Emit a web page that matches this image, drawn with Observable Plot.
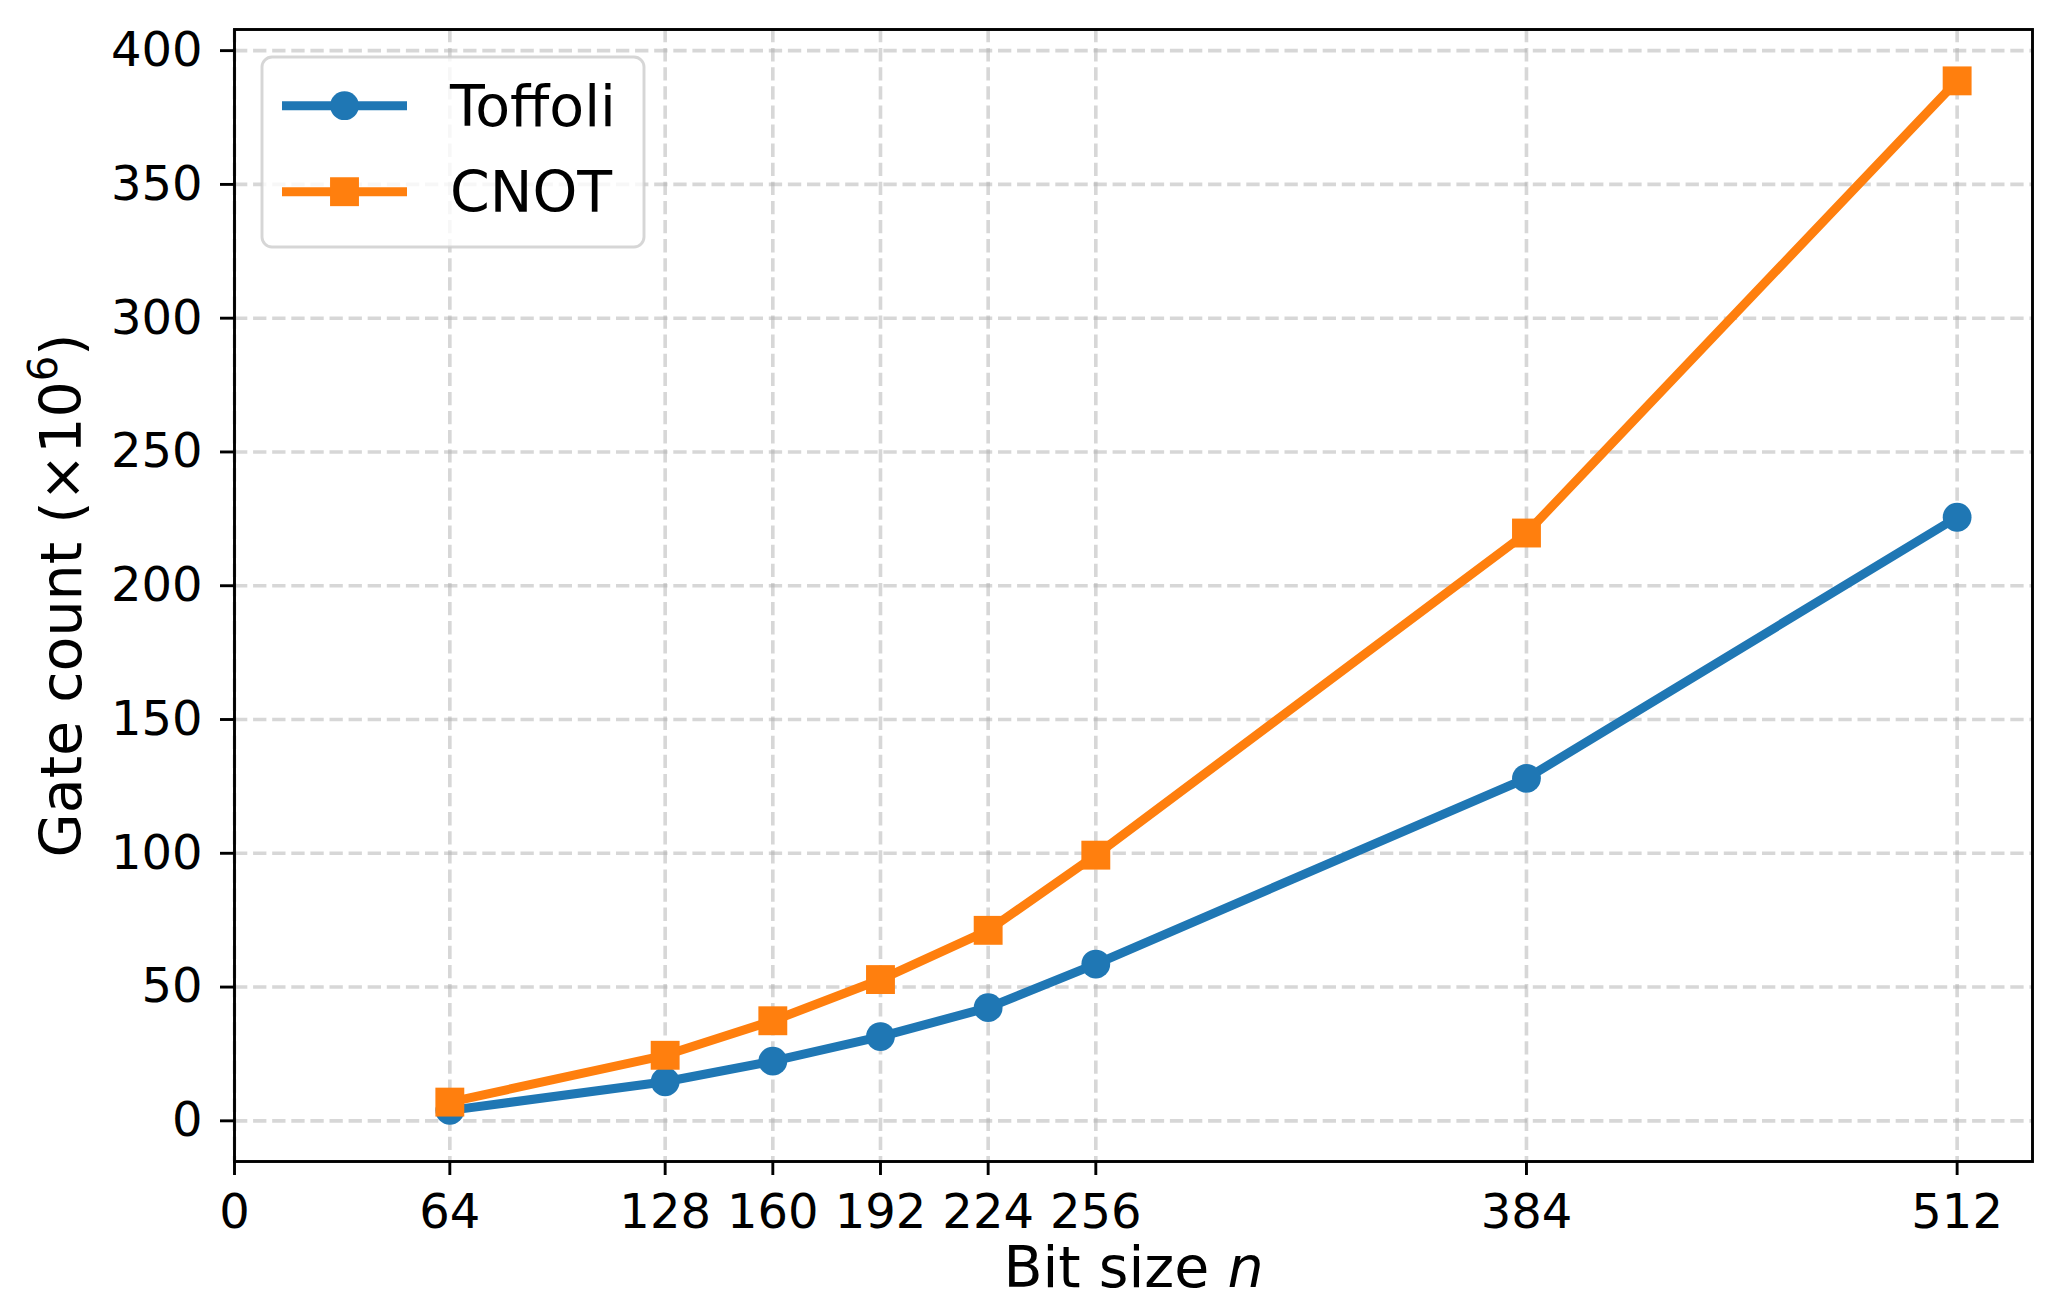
<!DOCTYPE html>
<html>
<head>
<meta charset="utf-8">
<script src="https://cdn.jsdelivr.net/npm/d3@7"></script>
<script src="https://cdn.jsdelivr.net/npm/@observablehq/plot@0.6"></script>
<style>
  html, body { margin: 0; padding: 0; background: #ffffff; }
  #chart svg { display: block; font-family: "DejaVu Sans", sans-serif; color: #000; background: #fff; }
</style>
</head>
<body>
<div id="chart"></div>
<script>
// Gate counts (millions) by bit size
const bitSizes = [64, 128, 160, 192, 224, 256, 384, 512];
const toffoliCounts = [3.9, 14.6, 22.3, 31.5, 42.3, 58.6, 128.0, 225.6];
const cnotCounts = [7.0, 24.5, 37.4, 52.8, 71.2, 99.3, 219.7, 388.7];
const seriesNames = ["Toffoli", "CNOT"];
const seriesColors = ["#1f77b4", "#ff7f0e"];
const xTicks = [0, 64, 128, 160, 192, 224, 256, 384, 512];
const yTicks = [0, 50, 100, 150, 200, 250, 300, 350, 400];
const xTitle = "Bit size n";
const yTitle = "Gate count (×106)";

const toffoliRows = bitSizes.map((n, i) => ({n, count: toffoliCounts[i]}));
const cnotRows = bitSizes.map((n, i) => ({n, count: cnotCounts[i]}));

const gridStyle = {stroke: "#b0b0b0", strokeOpacity: 0.5, strokeWidth: 3.6, strokeDasharray: "13.3,5.8"};
const lineWidth = 9;

const svg = Plot.plot({
  width: 2061,
  height: 1299,
  marginLeft: 234,
  marginRight: 29,
  marginTop: 29,
  marginBottom: 138,
  x: {domain: [0, 534.4]},
  y: {domain: [-15.2, 407.9]},
  marks: [
    Plot.gridY(yTicks, gridStyle),
    Plot.gridX(xTicks, gridStyle),
    Plot.line(toffoliRows, {x: "n", y: "count", stroke: seriesColors[0], strokeWidth: lineWidth, strokeLinejoin: "round"}),
    Plot.dot(toffoliRows, {x: "n", y: "count", r: 14.4, symbol: "circle", fill: seriesColors[0]}),
    Plot.line(cnotRows, {x: "n", y: "count", stroke: seriesColors[1], strokeWidth: lineWidth, strokeLinejoin: "round"}),
    Plot.dot(cnotRows, {x: "n", y: "count", r: 16.3, symbol: "square", fill: seriesColors[1]}),
    Plot.frame({stroke: "#000", strokeWidth: 2.9}),
    Plot.axisX({ticks: xTicks, tickSize: 14, tickPadding: 18, fontSize: 48, strokeWidth: 2.9, label: null, fill: "#000"}),
    Plot.axisY({ticks: yTicks, tickSize: 14, tickPadding: 18, fontSize: 48, strokeWidth: 2.9, label: null, fill: "#000"}),
    Plot.text([xTitle], {text: d => d, frameAnchor: "bottom", dy: 125, lineAnchor: "bottom", textAnchor: "middle", fontSize: 57, fill: "#000"}),
    Plot.text([yTitle], {text: d => d, frameAnchor: "left", dx: -154, rotate: -90, lineAnchor: "bottom", textAnchor: "middle", fontSize: 57, fill: "#000"})
  ]
});

const root = d3.select(svg);
const findText = s => root.selectAll("text").filter(function () { return this.textContent === s; });

// Axis titles: italic variable and superscript exponent
const xt = findText(xTitle);
xt.text(null);
xt.append("tspan").text("Bit size ");
xt.append("tspan").attr("font-style", "italic").text("n");

const yt = findText(yTitle);
yt.text(null);
yt.append("tspan").text("Gate count (×10");
yt.append("tspan").attr("font-size", 40).attr("dy", -24).text("6");
yt.append("tspan").attr("dy", 24).text(")");

// Legend in the upper-left corner of the axes
const legend = root.append("g").attr("aria-label", "legend").attr("text-anchor", "start");
legend.append("rect")
  .attr("x", 262).attr("y", 57).attr("width", 382).attr("height", 190).attr("rx", 10)
  .attr("fill", "#fff").attr("fill-opacity", 0.8)
  .attr("stroke", "#cccccc").attr("stroke-opacity", 0.8).attr("stroke-width", 2.9);
const legendSymbols = [d3.symbol(d3.symbolCircle, Math.PI * 14.4 * 14.4), d3.symbol(d3.symbolSquare, 28.9 * 28.9)];
seriesNames.forEach((name, i) => {
  const cy = 105.7 + i * 86;
  const g = legend.append("g");
  g.append("line").attr("x1", 282).attr("x2", 407).attr("y1", cy).attr("y2", cy)
    .attr("stroke", seriesColors[i]).attr("stroke-width", lineWidth);
  g.append("path").attr("d", legendSymbols[i]()).attr("transform", `translate(344.5,${cy})`).attr("fill", seriesColors[i]);
  g.append("text").attr("x", 450).attr("y", cy + 19.8).attr("font-size", 57).attr("fill", "#000")
    .attr("text-anchor", "start").text(name);
});

document.getElementById("chart").appendChild(svg);
</script>
</body>
</html>
